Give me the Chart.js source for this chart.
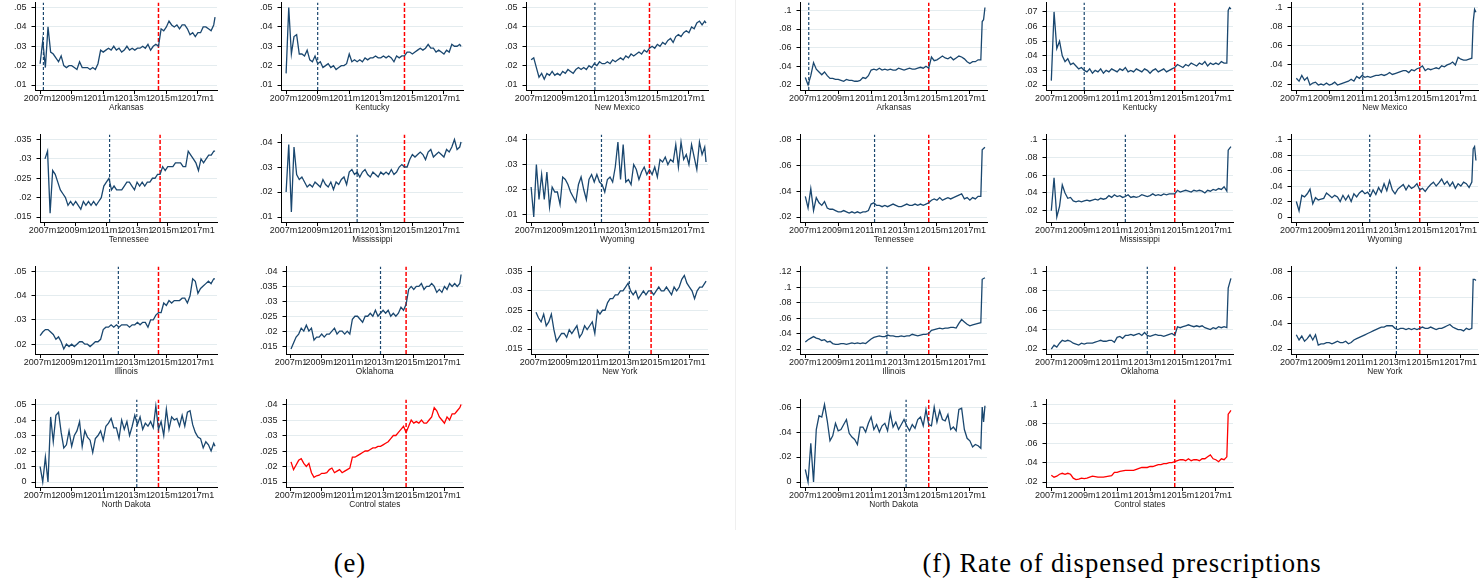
<!DOCTYPE html>
<html lang="en">
<head>
<meta charset="UTF-8">
<title>Monthly rates by state</title>
<script src="https://cdn.jsdelivr.net/npm/chart.js@4.4.1/dist/chart.umd.min.js"></script>
<style>
  body { margin: 0; background: #fff; width: 1480px; height: 583px; overflow: hidden; position: relative; }
  .cell { position: absolute; width: 245px; height: 127px; }
  .divider { position: absolute; left: 735px; top: 0; width: 1px; height: 530px; background: #efefef; }
  .caption { position: absolute; top: 548px; width: 700px; text-align: center; font-family: "Liberation Serif", serif; font-size: 26.7px; letter-spacing: 0.9px; line-height: 30px; color: #000; white-space: nowrap; }
</style>
</head>
<body>
<div class="divider"></div>
<div class="caption" style="left:0">(e)</div>
<div class="caption" style="left:772px">(f) Rate of dispensed prescriptions</div>

<script>
// x positions: months since 2007m1
const monthsE = [0,2,4,6,8,10,12,14,16,18,20,22,24,26,28,30,32,34,36,38,40,42,44,46,48,50,52,54,56,58,
  60,62,64,66,68,70,72,74,76,78,80,82,84,86,88,90,92,94,96,98,100,102,104,106,108,110,112,114,116,118,
  120,122,124,126,128,130,132,133];
const monthsF = [0,2,4,6,8,10,12,14,16,18,20,22,24,26,28,30,32,34,36,38,40,42,44,46,48,50,52,54,56,58,
  60,62,64,66,68,70,72,74,76,78,80,82,84,86,88,90,92,94,96,98,100,102,104,106,108,110,112,114,116,118,
  120,122,124,126,128,129,130,131];
const xTickVals = [0, 24, 48, 72, 96, 120];
const xTickLabels = ['2007m1', '2009m1', '2011m1', '2013m1', '2015m1', '2017m1'];

const stateNames = ['Arkansas', 'Kentucky', 'New Mexico', 'Tennessee', 'Mississippi', 'Wyoming',
  'Illinois', 'Oklahoma', 'New York', 'North Dakota', 'Control states'];
// blue dashed line (state policy month), red dashed line (rescheduling)
const treatMonth = [2.5, 24, 48.5, 50.5, 54, 53.5, 59.5, 70, 73, 73.5, null];
const reschedMonth = 90;

// ---- panel (e) ----
const eArkansas = [.021,.033,.019,.040,.027,.026,.024,.022,.025,.020, .019,.020,.020,.019,.018,.022,.019,.019,.019,.018,
  .019,.018,.021,.028,.027,.028,.029,.028,.030,.028, .029,.027,.028,.030,.028,.029,.028,.029,.029,.030,
  .029,.031,.028,.030,.031,.030,.039,.038,.040,.043, .041,.040,.041,.039,.041,.041,.039,.036,.037,.035,
  .037,.037,.040,.040,.039,.038,.041,.045];
const eKentucky = [.016,.050,.026,.035,.036,.026,.026,.025,.028,.023, .022,.025,.021,.022,.019,.020,.021,.019,.020,.018,
  .019,.020,.020,.021,.026,.022,.023,.022,.023,.022, .024,.023,.024,.024,.025,.024,.024,.025,.024,.025,
  .024,.022,.025,.024,.025,.025,.027,.027,.026,.027, .028,.029,.028,.029,.031,.029,.029,.027,.028,.027,
  .026,.028,.027,.031,.030,.030,.031,.030];
const eNewMexico = [.023,.024,.019,.014,.016,.013,.016,.015,.017,.015, .016,.015,.017,.016,.018,.017,.016,.018,.019,.018,
  .019,.018,.020,.019,.021,.020,.022,.021,.021,.022, .021,.023,.022,.023,.024,.023,.025,.024,.026,.025,
  .026,.027,.026,.028,.027,.029,.030,.029,.031,.030, .032,.031,.033,.034,.032,.035,.036,.035,.037,.038,
  .037,.040,.039,.042,.043,.041,.043,.042];
const eTennessee = [.030,.032,.016,.027,.026,.024,.022,.021,.020,.018, .019,.018,.019,.018,.017,.019,.018,.019,.018,.019,
  .018,.019,.020,.023,.024,.025,.022,.023,.022,.022, .022,.023,.024,.024,.023,.022,.024,.023,.024,.023,
  .024,.024,.025,.025,.026,.026,.028,.027,.028,.028, .028,.029,.029,.029,.028,.028,.032,.031,.030,.029,
  .027,.030,.029,.030,.031,.031,.032,.032];
const eMississippi = [.020,.039,.012,.038,.027,.025,.026,.024,.022,.023, .022,.024,.023,.022,.025,.023,.022,.024,.021,.024,
  .023,.025,.026,.023,.028,.029,.027,.028,.026,.028, .029,.027,.026,.028,.027,.026,.028,.027,.028,.027,
  .029,.027,.028,.030,.031,.030,.030,.033,.035,.034, .035,.036,.035,.033,.036,.037,.034,.035,.036,.035,
  .034,.037,.036,.038,.041,.037,.038,.040];
const eWyoming = [.021,.009,.030,.016,.026,.016,.027,.013,.021,.019, .019,.014,.025,.024,.022,.019,.017,.015,.022,.025,
  .020,.016,.024,.026,.023,.026,.023,.022,.019,.024, .025,.023,.029,.039,.024,.038,.023,.024,.022,.030,
  .028,.024,.027,.029,.026,.028,.026,.029,.025,.032, .031,.033,.030,.032,.031,.038,.029,.039,.032,.034,
  .030,.038,.033,.028,.039,.034,.037,.031];
const eIllinois = [.0235,.025,.026,.026,.025,.024,.022,.023,.021,.018, .020,.019,.020,.019,.020,.021,.021,.020,.020,.019,
  .020,.021,.021,.022,.026,.027,.027,.028,.027,.028, .027,.028,.028,.028,.027,.028,.028,.029,.028,.029,
  .029,.027,.030,.030,.032,.033,.033,.037,.036,.038, .037,.038,.038,.038,.039,.039,.037,.040,.047,.046,
  .041,.043,.044,.045,.046,.045,.047,.047];
const eOklahoma = [.014,.016,.018,.019,.021,.020,.022,.020,.021,.017, .018,.018,.019,.018,.019,.019,.020,.021,.019,.020,
  .020,.019,.020,.019,.024,.025,.025,.024,.023,.025, .025,.026,.025,.027,.025,.026,.027,.026,.027,.025,
  .026,.025,.026,.028,.027,.029,.034,.035,.034,.035, .035,.036,.034,.035,.035,.036,.035,.033,.034,.033,
  .035,.034,.036,.035,.036,.035,.036,.039];
const eNewYork = [.0245,.023,.022,.024,.021,.022,.024,.020,.017,.018, .019,.019,.018,.020,.019,.020,.021,.018,.019,.021,
  .020,.021,.022,.019,.025,.024,.025,.025,.027,.028, .028,.029,.029,.030,.030,.031,.032,.030,.029,.030,
  .028,.029,.030,.029,.030,.030,.029,.030,.031,.030, .030,.031,.030,.029,.031,.030,.031,.033,.034,.032,
  .031,.030,.028,.030,.031,.031,.032,.0325];
const eNorthDakota = [.010,.000,.016,.000,.042,.026,.043,.045,.032,.022, .024,.033,.023,.030,.033,.039,.023,.033,.029,.027,
  .019,.028,.030,.033,.027,.036,.038,.041,.035,.035, .028,.040,.034,.039,.030,.036,.043,.037,.042,.034,
  .038,.036,.039,.035,.049,.034,.039,.030,.047,.034, .042,.040,.041,.036,.043,.036,.045,.046,.037,.032,
  .029,.028,.022,.026,.024,.020,.025,.023];
const eControl = [.0215,.019,.0205,.022,.0225,.021,.020,.021,.018,.0165, .017,.0172,.0178,.0178,.018,.019,.0195,.018,.0185,.019,
  .018,.0185,.019,.0195,.023,.023,.0235,.024,.0245,.025, .025,.0255,.026,.026,.0265,.0265,.027,.0275,.028,.029,
  .030,.030,.031,.032,.033,.031,.033,.035,.034,.0345, .034,.035,.034,.034,.035,.036,.039,.038,.036,.035,
  .034,.036,.035,.037,.037,.038,.039,.040];

// ---- panel (f) ----
const fArkansas = [.028,.020,.030,.044,.037,.034,.031,.034,.030,.027, .027,.026,.026,.025,.024,.026,.025,.025,.024,.024,
  .025,.028,.027,.030,.036,.037,.036,.038,.036,.037, .036,.037,.036,.036,.038,.037,.036,.037,.038,.037,
  .037,.038,.039,.038,.040,.038,.050,.046,.047,.049, .051,.049,.048,.050,.047,.049,.051,.050,.048,.045,
  .043,.045,.045,.047,.047,.088,.090,.103];
const fKentucky = [.023,.070,.045,.050,.040,.036,.038,.034,.035,.033, .031,.032,.030,.029,.031,.028,.030,.029,.031,.028,
  .030,.029,.031,.030,.029,.031,.030,.032,.029,.030, .029,.031,.030,.029,.031,.030,.028,.030,.031,.029,
  .030,.031,.029,.030,.031,.032,.034,.033,.032,.034, .033,.035,.034,.033,.035,.034,.036,.033,.035,.034,
  .035,.034,.036,.035,.035,.071,.073,.072];
const fNewMexico = [.026,.023,.029,.024,.027,.019,.021,.022,.019,.020, .019,.021,.019,.020,.022,.019,.020,.021,.022,.023,
  .025,.023,.028,.026,.029,.027,.028,.027,.028,.029, .029,.030,.029,.030,.032,.030,.031,.032,.033,.034,
  .034,.032,.035,.034,.036,.037,.039,.034,.036,.035, .036,.037,.036,.039,.038,.040,.041,.043,.040,.048,
  .046,.045,.045,.046,.047,.085,.098,.095];
const fTennessee = [.036,.027,.042,.025,.035,.031,.029,.032,.027,.026, .026,.025,.024,.024,.025,.024,.023,.024,.023,.024,
  .023,.024,.024,.025,.030,.031,.029,.029,.028,.029, .028,.029,.030,.029,.028,.028,.029,.030,.029,.029,
  .030,.029,.030,.029,.030,.031,.033,.034,.033,.035, .033,.034,.035,.034,.035,.036,.037,.038,.034,.035,
  .033,.035,.034,.036,.036,.072,.073,.074];
const fMississippi = [.020,.057,.013,.025,.049,.040,.034,.035,.031,.030, .031,.030,.031,.032,.031,.032,.033,.032,.034,.033,
  .034,.037,.035,.038,.036,.037,.035,.036,.038,.035, .036,.035,.036,.038,.037,.036,.037,.039,.037,.038,
  .037,.039,.038,.039,.039,.039,.043,.041,.042,.043, .042,.041,.043,.042,.043,.042,.040,.043,.042,.044,
  .043,.045,.044,.047,.042,.088,.090,.092];
const fWyoming = [.020,.008,.028,.026,.030,.036,.017,.025,.022,.023, .024,.031,.028,.025,.028,.026,.020,.028,.022,.028,
  .020,.030,.026,.031,.034,.030,.032,.027,.035,.029, .038,.032,.043,.034,.047,.035,.030,.036,.039,.042,
  .035,.041,.037,.039,.043,.035,.037,.033,.038,.042, .045,.040,.044,.049,.042,.046,.040,.045,.037,.043,
  .040,.045,.043,.038,.045,.088,.091,.073];
const fIllinois = [.029,.032,.034,.036,.034,.033,.031,.032,.029,.030, .027,.026,.026,.027,.027,.026,.027,.028,.027,.028,
  .027,.028,.027,.030,.033,.035,.036,.037,.036,.036, .038,.037,.037,.036,.036,.037,.036,.037,.037,.039,
  .038,.037,.038,.039,.039,.040,.044,.045,.046,.047, .046,.047,.047,.048,.048,.047,.053,.058,.055,.052,
  .050,.051,.052,.053,.054,.110,.111,.112];
const fOklahoma = [.020,.024,.022,.026,.029,.028,.029,.028,.026,.025, .024,.026,.025,.026,.026,.026,.027,.028,.029,.028,
  .028,.029,.029,.027,.032,.033,.031,.034,.034,.035, .034,.035,.036,.034,.037,.034,.033,.034,.035,.034,
  .034,.033,.034,.035,.036,.034,.043,.042,.043,.044, .045,.044,.043,.044,.043,.044,.042,.041,.040,.042,
  .041,.043,.042,.043,.042,.083,.088,.093];
const fNewYork = [.031,.027,.030,.026,.028,.031,.027,.031,.023,.024, .024,.025,.025,.024,.025,.026,.025,.025,.026,.024,
  .025,.027,.028,.029,.030,.031,.032,.033,.034,.035, .036,.037,.037,.038,.038,.038,.036,.035,.036,.036,
  .035,.036,.035,.036,.035,.036,.037,.036,.036,.037, .036,.035,.036,.036,.037,.038,.039,.037,.036,.035,
  .035,.034,.036,.035,.036,.074,.074,.073];
const fNorthDakota = [.010,.000,.031,.000,.042,.053,.052,.062,.049,.033, .037,.047,.041,.042,.046,.050,.039,.036,.034,.030,
  .044,.044,.040,.047,.052,.042,.046,.040,.045,.047, .041,.055,.044,.048,.042,.046,.050,.045,.041,.046,
  .043,.050,.052,.045,.058,.046,.045,.060,.048,.057, .050,.049,.054,.042,.044,.041,.058,.059,.042,.035,
  .033,.028,.030,.029,.027,.060,.048,.061];
const fControl = [.027,.025,.026,.028,.029,.028,.029,.028,.024,.0225, .023,.024,.0235,.024,.025,.026,.0255,.025,.025,.025,
  .0255,.026,.0265,.030,.030,.031,.0315,.032,.032,.032, .032,.033,.034,.035,.035,.035,.036,.036,.037,.038,
  .038,.039,.039,.040,.040,.041,.042,.043,.043,.042, .044,.042,.043,.043,.042,.044,.044,.046,.048,.044,
  .043,.041,.044,.043,.046,.090,.092,.094];

// y tick values per state
const eTicks = [
  [.01,.02,.03,.04,.05], [.01,.02,.03,.04,.05], [.01,.02,.03,.04,.05],
  [.015,.02,.025,.03,.035], [.01,.02,.03,.04], [.01,.02,.03,.04],
  [.02,.03,.04,.05], [.015,.02,.025,.03,.035,.04], [.015,.02,.025,.03,.035],
  [0,.01,.02,.03,.04,.05], [.015,.02,.025,.03,.035,.04]
];
const fTicks = [
  [.02,.04,.06,.08,.1], [.02,.03,.04,.05,.06,.07], [.02,.04,.06,.08,.1],
  [.02,.04,.06,.08], [.02,.04,.06,.08,.1], [0,.02,.04,.06,.08,.1],
  [.02,.04,.06,.08,.1,.12], [.02,.04,.06,.08,.1], [.02,.04,.06,.08],
  [0,.02,.04,.06], [.02,.04,.06,.08,.1]
];

const eSeries = [eArkansas, eKentucky, eNewMexico, eTennessee, eMississippi, eWyoming,
  eIllinois, eOklahoma, eNewYork, eNorthDakota, eControl];
const fSeries = [fArkansas, fKentucky, fNewMexico, fTennessee, fMississippi, fWyoming,
  fIllinois, fOklahoma, fNewYork, fNorthDakota, fControl];

const NAVY = '#1a476f';
const RED = '#ff0000';
const rowTops = [0, 132, 264, 397];

function yLabel(v) {
  return v === 0 ? '0' : String(v).replace(/^0\./, '.');
}

function makeChart(left, top, months, vals, ticks, i, xMax, padRight) {
  const cell = document.createElement('div');
  cell.className = 'cell';
  cell.style.left = left + 'px';
  cell.style.top = (top - 7) + 'px';   // y-axis top label padding eats ~7px, shift up
  const cv = document.createElement('canvas');
  cv.width = 245;
  cv.height = 127;
  cell.appendChild(cv);
  document.body.appendChild(cell);

  let lo = Math.min(ticks[0], ...vals);
  let hi = Math.max(ticks[ticks.length - 1], ...vals);
  const pad = (hi - lo) * 0.065;
  lo -= pad;
  hi += pad;

  const isControl = i === 10;
  const datasets = [{
    data: months.map((m, k) => ({ x: m, y: vals[k] })),
    borderColor: isControl ? RED : NAVY,
    borderWidth: 1.3,
    pointRadius: 0,
    tension: 0
  }];
  if (treatMonth[i] !== null) {
    datasets.push({
      data: [{ x: treatMonth[i], y: lo }, { x: treatMonth[i], y: hi }],
      borderColor: NAVY, borderWidth: 1.2, borderDash: [3, 2], pointRadius: 0
    });
  }
  datasets.push({
    data: [{ x: reschedMonth, y: lo }, { x: reschedMonth, y: hi }],
    borderColor: RED, borderWidth: 1.5, borderDash: [4, 2], pointRadius: 0
  });

  const tickFont = { family: '"Liberation Sans", Arial, sans-serif', size: 9, lineHeight: 1.0 };

  new Chart(cv.getContext('2d'), {
    type: 'line',
    data: { datasets: datasets },
    options: {
      responsive: false,
      animation: false,
      devicePixelRatio: 1,
      layout: { padding: { left: 9, right: padRight, top: 2, bottom: 7 } },
      plugins: { legend: { display: false }, tooltip: { enabled: false } },
      scales: {
        x: {
          type: 'linear',
          min: -3.5,
          max: xMax,
          afterBuildTicks: axis => { axis.ticks = xTickVals.map(v => ({ value: v })); },
          ticks: {
            autoSkip: false, maxRotation: 0, padding: 0, color: '#222', font: tickFont,
            callback: v => xTickLabels[xTickVals.indexOf(v)]
          },
          grid: { drawOnChartArea: false, tickLength: 4, tickColor: '#000' },
          border: { color: '#000', width: 1 },
          title: {
            display: true, text: stateNames[i], color: '#222', padding: { top: 0, bottom: 0 },
            font: { family: '"Liberation Sans", Arial, sans-serif', size: 8.3, lineHeight: 1.2 }
          }
        },
        y: {
          min: lo,
          max: hi,
          afterBuildTicks: axis => { axis.ticks = ticks.map(v => ({ value: v })); },
          ticks: { padding: 5, color: '#222', font: tickFont, callback: v => yLabel(v) },
          grid: { color: '#e4ecef', lineWidth: 1, tickLength: 4, tickColor: '#000' },
          border: { color: '#000', width: 1 }
        }
      }
    }
  });
}

function drawPanel(left0, months, series, ticks, xMax, padRight) {
  series.forEach((vals, i) => {
    const col = i % 3, row = Math.floor(i / 3);
    makeChart(Math.round(left0 + col * 245.5), rowTops[row], months, vals, ticks[i], i, xMax, padRight);
  });
}

drawPanel(0, monthsE, eSeries, eTicks, 134.5, 28);
drawPanel(765, monthsF, fSeries, fTicks, 132.5, 23);
</script>
</body>
</html>
